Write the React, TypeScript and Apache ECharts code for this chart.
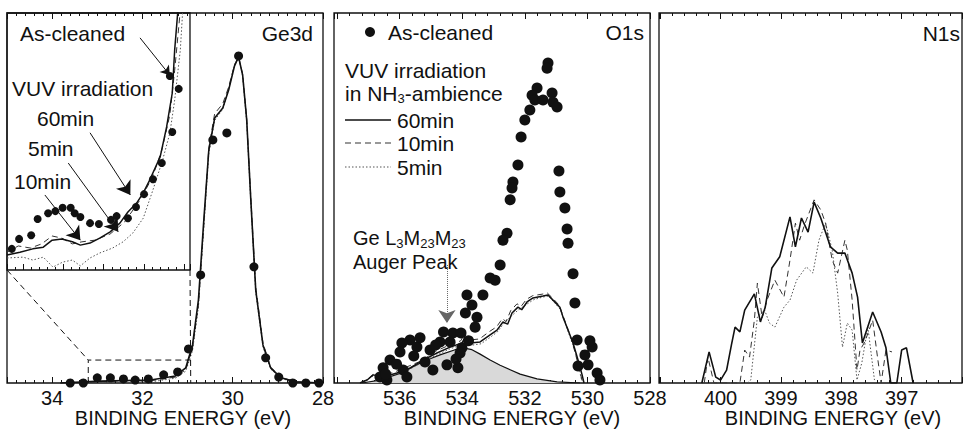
import React, { useEffect, useRef } from 'react';
import * as echarts from 'echarts';

const FONT = '"Liberation Sans", Arial, Helvetica, sans-serif';
const INK = '#111';

// ---------- Ge3d panel (binding energy eV, intensity a.u.) ----------
const GE_TICKS = [34, 32, 30, 28];
const GE_DOTS = [
  [33.6, 0], [33.31, 0], [33.0, 1.4], [32.71, 1.4], [32.42, 1.1], [32.16, 0.8], [31.87, 1.1],
  [31.53, 2.2], [31.22, 3.0], [30.98, 9.2], [30.71, 29.2], [30.44, 65.7], [30.13, 67.6],
  [29.87, 88.4], [29.53, 31.4], [29.27, 6.8], [28.98, 1.6], [28.67, 0], [28.38, 0], [28.09, 0],
];
const GE_60 = [
  [33.82, 0], [32.93, 0.5], [31.82, 0.8], [31.27, 1.9], [31.04, 4.1], [30.89, 10.3], [30.76, 22.4],
  [30.64, 44.1], [30.53, 62.9], [30.4, 71.6], [30.22, 74.3], [30.09, 79.2], [29.96, 85.7],
  [29.87, 88.1], [29.78, 83.2], [29.69, 71.1], [29.6, 49.7], [29.49, 25.1], [29.33, 10.3],
  [29.16, 4.1], [28.93, 1.4], [28.6, 0.3], [28.04, 0],
];
const GE_10 = [
  [33.82, 0], [32.93, 0.4], [31.82, 0.6], [31.27, 1.6], [31.04, 3.6], [30.89, 9.5], [30.76, 21],
  [30.64, 43], [30.53, 63.5], [30.4, 72.8], [30.22, 75.5], [30.09, 80], [29.96, 86], [29.87, 88],
  [29.78, 83.5], [29.69, 71.5], [29.6, 50.5], [29.49, 26], [29.33, 10.8], [29.16, 4.3],
  [28.93, 1.5], [28.6, 0.3], [28.04, 0],
];
const GE_5 = [
  [33.82, 0], [32.93, 0.2], [31.82, 0.3], [31.27, 1.3], [31.04, 3.2], [30.89, 8.8], [30.76, 20.5],
  [30.64, 42], [30.53, 62], [30.4, 71], [30.22, 74], [30.09, 79.5], [29.96, 86], [29.87, 88.4],
  [29.78, 83], [29.69, 70.5], [29.6, 49], [29.49, 24.5], [29.33, 9.8], [29.16, 3.8], [28.93, 1.2],
  [28.6, 0.2], [28.04, 0],
];

// ---------- Ge3d inset (magnified low-intensity tail) ----------
const INSET_X = [30.93, 33.2];
const INSET_Y = [0, 6.2];
const INSET_DOTS = [
  [33.14, 0.51], [33.05, 0.75], [32.9, 0.84], [32.82, 1.23], [32.69, 1.37], [32.6, 1.42],
  [32.51, 1.5], [32.41, 1.5], [32.36, 1.37], [32.29, 1.28], [32.17, 1.13], [32.06, 1.11],
  [31.91, 1.21], [31.84, 1.3], [31.7, 1.25], [31.6, 1.52], [31.5, 1.83], [31.39, 2.19],
  [31.28, 2.58], [31.15, 3.33], [31.07, 4.37], [31.18, 4.68],
];
const INSET_60 = [
  [33.2, 0.36], [33.04, 0.43], [32.88, 0.51], [32.75, 0.55], [32.64, 0.72], [32.52, 0.75],
  [32.39, 0.68], [32.29, 0.6], [32.17, 0.65], [32.05, 0.77], [31.92, 0.92], [31.8, 1.13],
  [31.7, 1.4], [31.59, 1.62], [31.51, 1.86], [31.43, 2.17], [31.3, 2.73], [31.22, 3.45],
  [31.15, 4.27], [31.12, 5.31], [31.08, 6.27],
];
const INSET_10 = [
  [33.2, 0.43], [33.06, 0.58], [32.91, 0.53], [32.77, 0.63], [32.64, 0.82], [32.52, 0.77],
  [32.39, 0.63], [32.27, 0.68], [32.11, 0.72], [31.92, 0.87], [31.74, 1.16], [31.55, 1.69],
  [31.4, 2.22], [31.28, 2.89], [31.18, 3.74], [31.12, 4.82], [31.05, 6.27],
];
const INSET_5 = [
  [33.2, 0.29], [33.0, 0.31], [32.88, 0.24], [32.75, 0.31], [32.63, 0.07], [32.51, 0.19],
  [32.39, 0.24], [32.29, 0.1], [32.17, 0.29], [32.05, 0.41], [31.89, 0.53], [31.76, 0.68],
  [31.64, 0.89], [31.51, 1.25], [31.39, 1.93], [31.27, 2.65], [31.18, 3.3], [31.12, 4.1],
  [31.05, 5.31], [31.02, 6.27],
];

// ---------- O1s panel ----------
const O_TICKS = [536, 534, 532, 530, 528];
const O_DOTS = [
  [531.26, 86.5], [531.29, 85.1], [531.61, 79.7], [531.77, 77.8], [531.68, 76.5], [531.42, 76.5],
  [531.13, 78.4], [531.1, 75.9], [530.97, 74.6], [531.84, 73.8], [532.0, 71.1], [532.12, 66.5],
  [532.22, 58.9], [532.38, 54.3], [532.41, 52.7], [532.47, 49.5], [532.57, 40.5], [532.7, 38.6],
  [532.79, 31.9], [533.11, 28.4], [532.95, 27.8],
  [530.91, 57.3], [530.88, 51.6], [530.72, 47.3], [530.65, 41.6], [530.62, 37.8], [530.46, 29.5],
  [530.4, 21.6], [530.33, 11.6], [529.85, 9.7], [530.08, 7.6], [529.98, 4.9], [529.69, 2.7],
  [529.6, 0.8], [530.3, 4.6], [529.92, 11.4],
  [533.85, 23.8], [533.34, 23.8], [533.69, 21.1], [533.9, 18.9], [533.53, 17.8], [533.59, 15.1],
  [534.3, 13.5], [534.04, 13.5], [534.71, 11.1], [534.39, 11.1], [534.01, 9.5], [535.03, 8.9],
  [535.67, 11.6], [535.93, 10.8], [535.45, 9.7], [535.99, 8.4], [536.31, 6.2], [536.53, 4.1],
  [536.63, 1.6], [536.41, 0.8], [535.89, 3.5], [535.77, 1.6], [535.19, 5.7], [534.94, 3.5],
  [534.49, 4.9], [534.14, 4.1], [534.07, 8.1], [535.35, 12.2], [534.85, 10.3], [534.6, 13.8],
  [536.1, 5.1], [535.55, 7.3], [536.45, 2.4], [534.2, 6.5], [533.8, 11.4],
];
const O_AUGER = [
  [537.2, 0], [536.63, 0.8], [535.99, 2.6], [535.57, 4.4], [535.19, 6.0], [534.71, 7.6],
  [534.23, 9.0], [533.98, 9.5], [533.69, 9.0], [533.43, 7.8], [533.11, 6.2], [532.79, 4.8],
  [532.47, 3.6], [532.15, 2.4], [531.61, 1.1], [530.97, 0.3], [530.24, 0],
];
const O_60 = [
  [537.27, 0], [537.04, 0.8], [536.85, 2.2], [536.53, 1.6], [536.09, 2.7], [535.67, 4.1],
  [535.25, 6.2], [534.81, 8.1], [534.39, 9.7], [534.01, 10.8], [533.91, 12.4], [533.75, 10.8],
  [533.43, 11.1], [533.11, 13.0], [532.89, 14.3], [532.7, 16.5], [532.55, 15.9], [532.41, 18.9],
  [532.22, 20.5], [532.1, 19.8], [531.93, 21.9], [531.74, 23.0], [531.42, 23.5], [531.26, 23.8],
  [531.1, 22.4], [530.88, 20.5], [530.78, 17.8], [530.62, 14.3], [530.46, 10.8], [530.3, 6.2],
  [530.17, 2.2], [530.11, 0],
];
const O_10 = [
  [537.27, 0], [537.0, 1.2], [536.8, 2.6], [536.5, 2.0], [536.1, 3.2], [535.7, 4.6], [535.3, 6.0],
  [534.85, 8.6], [534.4, 10.3], [534.05, 11.4], [533.93, 13.2], [533.78, 11.6], [533.45, 11.9],
  [533.15, 13.8], [532.9, 15.2], [532.72, 17.4], [532.6, 16.6], [532.45, 19.6], [532.25, 21.4],
  [532.12, 20.7], [531.95, 22.6], [531.75, 23.6], [531.45, 24.0], [531.28, 24.3], [531.12, 23.0],
  [530.9, 21.0], [530.8, 18.6], [530.65, 15.2], [530.5, 11.5], [530.35, 6.8], [530.22, 2.4],
  [530.15, 0],
];
const O_5 = [
  [537.3, 0], [537.1, 0.6], [536.9, 1.8], [536.55, 1.2], [536.1, 2.4], [535.7, 3.6], [535.25, 5.8],
  [534.8, 7.6], [534.4, 9.2], [534.0, 10.4], [533.88, 12.0], [533.72, 10.2], [533.4, 10.6],
  [533.1, 12.4], [532.88, 13.8], [532.7, 15.8], [532.42, 18.2], [532.2, 19.8], [531.92, 21.4],
  [531.72, 22.5], [531.44, 23.2], [531.25, 23.5], [531.08, 22.0], [530.86, 19.8], [530.74, 16.8],
  [530.58, 13.0], [530.42, 9.4], [530.28, 4.8], [530.2, 1.2], [530.05, 0],
];

// ---------- N1s panel ----------
const N_TICKS = [400, 399, 398, 397];
const N_60 = [
  [400.31, 0], [400.19, 8.4], [400.08, 1.6], [400.0, 0.8], [399.9, 3.5], [399.82, 10.3],
  [399.76, 15.1], [399.68, 13.8], [399.6, 19.7], [399.44, 24.1], [399.34, 16.5], [399.26, 20.5],
  [399.15, 31.1], [399.02, 34.1], [398.85, 44.9], [398.76, 36.8], [398.66, 44.6], [398.55, 40.8],
  [398.45, 48.9], [398.34, 44.6], [398.18, 36.8], [398.06, 35.1], [397.94, 35.1], [397.82, 29.7],
  [397.73, 23.2], [397.65, 10.8], [397.48, 19.2], [397.34, 13.8], [397.26, 9.5], [397.18, 0],
  [397.08, 0], [397.0, 8.9], [396.92, 9.5], [396.81, 0],
];
const N_10 = [
  [400.27, 0], [400.21, 7.0], [400.11, 0], [399.68, 0], [399.6, 8.9], [399.52, 7.0], [399.44, 17.0],
  [399.39, 27.0], [399.31, 17.6], [399.23, 22.4], [399.1, 27.8], [398.95, 23.2], [398.85, 33.2],
  [398.76, 43.2], [398.69, 38.6], [398.61, 42.7], [398.45, 49.5], [398.34, 46.8], [398.26, 43.2],
  [398.15, 33.2], [398.06, 29.7], [397.94, 38.6], [397.9, 35.9], [397.82, 22.4], [397.74, 3.5],
  [397.69, 8.9], [397.61, 11.1], [397.48, 17.0], [397.4, 7.0], [397.34, 0], [397.26, 8.9],
  [397.16, 8.4],
];
const N_5 = [
  [399.55, 0], [399.5, 0.8], [399.39, 17.8], [399.27, 19.7], [399.19, 16.2], [399.1, 15.1],
  [398.95, 20.5], [398.85, 22.4], [398.74, 27.8], [398.58, 31.4], [398.47, 29.7], [398.37, 38.6],
  [398.26, 43.2], [398.15, 35.9], [398.06, 24.3], [397.98, 9.7], [397.9, 16.2], [397.82, 14.3],
  [397.74, 0.8], [397.66, 5.4], [397.56, 15.1], [397.45, 0.8],
];

const DASH = [6, 4];
const DOT = [1.5, 2];

function fmt(ticks: number[]) {
  return (v: number) => (ticks.some((t) => Math.abs(t - v) < 1e-6) ? String(Math.round(v)) : '');
}

function xAxisDef(grid: number, min: number, max: number, interval: number | undefined, minorSplit: number, ticks: number[] | null, position: string) {
  const a: any = {
    type: 'value', gridIndex: grid, min, max, inverse: true, position,
    axisLine: { show: false },
    axisTick: { show: true, inside: true, length: 6, lineStyle: { color: INK, width: 1 } },
    minorTick: { show: true, splitNumber: minorSplit, length: 3, lineStyle: { color: INK, width: 1 } },
    splitLine: { show: false },
    minorSplitLine: { show: false },
    axisLabel: ticks
      ? { show: true, margin: 5, fontSize: 20, fontFamily: FONT, color: INK, formatter: fmt(ticks), hideOverlap: false }
      : { show: false },
  };
  if (interval !== undefined) a.interval = interval;
  return a;
}

function yAxisDef(grid: number, max: number) {
  return { type: 'value', gridIndex: grid, min: 0, max, show: false };
}

function line(data: number[][], axis: number, type: any, width: number, color = INK, extra: any = {}) {
  return {
    type: 'line', data, xAxisIndex: axis, yAxisIndex: axis, showSymbol: false, symbol: 'none',
    lineStyle: { color, width, type }, silent: true, z: 3, animation: false, ...extra,
  };
}

function dots(data: number[][], axis: number, size: number) {
  return {
    type: 'scatter', data, xAxisIndex: axis, yAxisIndex: axis, symbol: 'circle', symbolSize: size,
    itemStyle: { color: INK, opacity: 1 }, silent: true, z: 4,
  };
}

function arrow(from: number[], to: number[], size: number) {
  return [{ coord: from, symbol: 'none' }, { coord: to, symbol: 'arrow', symbolSize: size }];
}

function txt(text: string, x: number, y: number, size = 21, align = 'left', rich?: any) {
  const style: any = { text, x: 0, y: 0, fill: INK, font: `${size}px ${FONT}`, align, verticalAlign: 'middle' };
  if (rich) style.rich = rich;
  return { type: 'text', x, y, style, silent: true, z: 20 };
}

export default function App() {
  const ref = useRef<HTMLDivElement>(null);
  useEffect(() => {
    if (!ref.current) return;
    const chart = echarts.init(ref.current, undefined, { renderer: 'svg' });

    const grids = [
      { left: 7, top: 13, width: 316, height: 370 },
      { left: 7, top: 13, width: 183, height: 257 },
      { left: 334, top: 13, width: 316, height: 370 },
      { left: 659, top: 13, width: 311, height: 370 },
    ].map((g) => ({ ...g, show: true, borderColor: INK, borderWidth: 1.3, backgroundColor: 'transparent', containLabel: false }));

    const option: any = {
      animation: false,
      backgroundColor: '#fff',
      grid: grids,
      xAxis: [
        xAxisDef(0, 28, 35, 2, 10, GE_TICKS, 'bottom'),
        xAxisDef(1, INSET_X[0], INSET_X[1], undefined, 5, null, 'bottom'),
        xAxisDef(2, 528, 538.1, 2, 5, O_TICKS, 'bottom'),
        xAxisDef(3, 396, 401.02, 1, 5, N_TICKS, 'bottom'),
        xAxisDef(0, 28, 35, 2, 10, null, 'top'),
        xAxisDef(2, 528, 538.1, 2, 5, null, 'top'),
        xAxisDef(3, 396, 401.02, 1, 5, null, 'top'),
      ],
      yAxis: [yAxisDef(0, 100), yAxisDef(1, INSET_Y[1]), yAxisDef(2, 100), yAxisDef(3, 100)],
      series: [
        // Ge3d main
        line(GE_5, 0, DOT, 1, '#555'),
        line(GE_10, 0, DASH, 1, '#333'),
        line(GE_60, 0, 'solid', 1.6),
        dots(GE_DOTS, 0, 9),
        // inset
        line(INSET_5, 1, DOT, 1, '#555'),
        line(INSET_10, 1, DASH, 1, '#333'),
        line(INSET_60, 1, 'solid', 1.5, INK, {
          markLine: {
            silent: true, animation: false, label: { show: false },
            lineStyle: { color: INK, width: 1, type: 'solid' },
            data: [
              arrow([31.55, 5.6], [31.18, 4.7], 9),
              arrow([32.17, 3.31], [31.67, 1.81], 13),
              arrow([32.44, 2.58], [31.82, 0.92], 13),
              arrow([32.73, 1.81], [32.29, 0.72], 13),
            ],
          },
        }),
        dots(INSET_DOTS, 1, 8),
        // O1s
        line(O_AUGER, 2, 'solid', 1.2, INK, { areaStyle: { color: '#d9d9d9', opacity: 1 }, z: 2 }),
        line(O_5, 2, DOT, 1, '#555'),
        line(O_10, 2, DASH, 1, '#333'),
        line(O_60, 2, 'solid', 1.5, INK, {
          markLine: {
            silent: true, animation: false, label: { show: false },
            lineStyle: { color: '#666', width: 1, type: 'dotted' },
            data: [arrow([534.49, 31.9], [534.49, 16.2], 13)],
          },
        }),
        dots(O_DOTS, 2, 11),
        // N1s
        line(N_5, 3, DOT, 1, '#555'),
        line(N_10, 3, DASH, 1, '#333'),
        line(N_60, 3, 'solid', 1.6),
      ],
    };
    chart.setOption(option);

    // zoom box connectors, computed from the axes
    const m = (p: number[]) => chart.convertToPixel({ xAxisIndex: 0, yAxisIndex: 0 }, p) as number[];
    const ins = (p: number[]) => chart.convertToPixel({ xAxisIndex: 1, yAxisIndex: 1 }, p) as number[];
    const boxTL = m([INSET_X[1], INSET_Y[1]]);
    const boxTR = m([INSET_X[0], INSET_Y[1]]);
    const boxBL = m([INSET_X[1], INSET_Y[0]]);
    const boxBR = m([INSET_X[0], INSET_Y[0]]);
    const insBL = ins([INSET_X[1], INSET_Y[0]]);
    const insBR = ins([INSET_X[0], INSET_Y[0]]);
    const dashStyle = { stroke: INK, lineWidth: 1, lineDash: [6, 4], fill: null };

    const sub = { fontSize: 13, fontFamily: FONT, verticalAlign: 'bottom', lineHeight: 14 };
    const nrm = (s: number) => ({ fontSize: s, fontFamily: FONT, lineHeight: 24 });

    const graphic: any[] = [
      { type: 'polyline', shape: { points: [boxBL, boxTL, boxTR] }, style: dashStyle, silent: true, z: 10 },
      { type: 'line', shape: { x1: insBR[0], y1: insBR[1], x2: boxBR[0], y2: boxBR[1] }, style: dashStyle, silent: true, z: 10 },
      { type: 'line', shape: { x1: insBL[0], y1: insBL[1], x2: boxTL[0], y2: boxTL[1] }, style: dashStyle, silent: true, z: 10 },
      // Panel 1 texts
      txt('As-cleaned', 20, 33),
      txt('Ge3d', 313, 33, 21, 'right'),
      txt('VUV irradiation', 12, 88),
      txt('60min', 37, 118),
      txt('5min', 28, 148),
      txt('10min', 14, 181),
      // Panel 2 texts
      { type: 'circle', shape: { cx: 370, cy: 32, r: 5 }, style: { fill: INK }, silent: true, z: 20 },
      txt('As-cleaned', 388, 32),
      txt('O1s', 644, 32, 21, 'right'),
      txt('VUV irradiation', 345, 70),
      txt('{n|in NH}{s|3}{n|-ambience}', 345, 93, 21, 'left', { n: nrm(21), s: sub }),
      { type: 'line', shape: { x1: 345, y1: 120, x2: 391, y2: 120 }, style: { stroke: INK, lineWidth: 1.6 }, silent: true, z: 20 },
      { type: 'line', shape: { x1: 345, y1: 143, x2: 391, y2: 143 }, style: { stroke: '#333', lineWidth: 1.2, lineDash: DASH }, silent: true, z: 20 },
      { type: 'line', shape: { x1: 345, y1: 167, x2: 391, y2: 167 }, style: { stroke: '#555', lineWidth: 1.2, lineDash: DOT }, silent: true, z: 20 },
      txt('60min', 397, 120),
      txt('10min', 397, 143),
      txt('5min', 397, 167),
      txt('{n|Ge L}{s|3}{n|M}{s|23}{n|M}{s|23}', 353, 238, 20, 'left', { n: nrm(20), s: sub }),
      txt('Auger Peak', 353, 262, 20),
      // Panel 3
      txt('N1s', 960, 33, 21, 'right'),
      // axis titles
      txt('BINDING ENERGY (eV)', 183, 418, 20, 'center'),
      txt('BINDING ENERGY (eV)', 512, 418, 20, 'center'),
      txt('BINDING ENERGY (eV)', 833, 418, 20, 'center'),
    ];
    chart.setOption({ graphic });

    return () => chart.dispose();
  }, []);

  return (
    <div
      ref={ref}
      style={{ position: 'absolute', left: 0, top: 0, width: 965, height: 430, background: '#fff' }}
    />
  );
}
